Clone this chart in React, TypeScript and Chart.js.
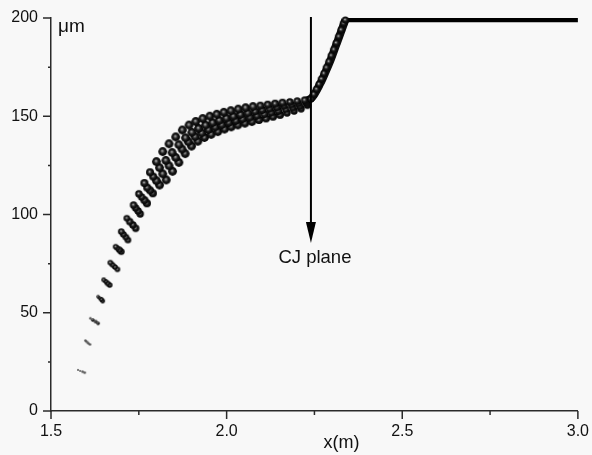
import { useEffect, useRef } from "react";
import { Chart, registerables } from "chart.js";

Chart.register(...registerables);

// ---- axis ranges & ticks ----
const X_MIN = 1.5;
const X_MAX = 3.0;
const Y_MIN = 0;
const Y_MAX = 200;
const xMajorTicks = [1.5, 2.0, 2.5, 3.0];
const xMinorTicks = [1.75, 2.25, 2.75];
const yMajorTicks = [0, 50, 100, 150, 200];
const yMinorTicks = [25, 75, 125, 175];
const X_TITLE = "x(m)";
const Y_UNIT = "\u03bcm";

// ---- CJ plane annotation (data units) ----
const CJ_X = 2.24;
const CJ_ARROW_TOP = 200;
const CJ_ARROW_TIP = 85.5;
const CJ_LABEL = "CJ plane";

// ---- particle strands (upper-left -> lower-right) ----
const strandAX = [1.577, 1.598, 1.612, 1.634, 1.650, 1.669, 1.684, 1.700, 1.716, 1.735, 1.750, 1.766, 1.782, 1.800, 1.818, 1.836, 1.855, 1.874, 1.893, 1.912, 1.932, 1.952, 1.972, 1.992, 2.012, 2.033, 2.054, 2.075, 2.096, 2.117, 2.138, 2.159, 2.180, 2.201, 2.222];
const strandAY = [20.9, 35.8, 47.2, 58.2, 66.7, 75.5, 83.6, 91.3, 98.1, 104.8, 110.5, 116, 121.5, 126.9, 132, 136, 139.5, 143, 145.5, 147.3, 148.8, 150, 151, 152, 152.8, 153.6, 154.3, 154.9, 155.4, 155.9, 156.4, 156.9, 157.3, 157.7, 158.2];

const strandBX = [1.583, 1.602, 1.619, 1.638, 1.656, 1.675, 1.689, 1.706, 1.724, 1.741, 1.758, 1.774, 1.791, 1.809, 1.827, 1.845, 1.864, 1.883, 1.901, 1.920, 1.940, 1.960, 1.979, 1.999, 2.019, 2.039, 2.060, 2.081, 2.101, 2.122, 2.143, 2.163, 2.184, 2.204, 2.225];
const strandBY = [20.4, 35.2, 46.3, 57.5, 65.9, 74.4, 82.8, 89.9, 96.4, 103.3, 108.9, 113.7, 119.3, 123.8, 127.5, 131.5, 135.5, 139, 141.8, 143.8, 145.5, 146.7, 147.9, 149, 150, 150.9, 151.7, 152.5, 153.2, 153.9, 154.6, 155.3, 155.9, 156.5, 157.4];

const strandCX = [1.590, 1.606, 1.627, 1.643, 1.661, 1.682, 1.695, 1.713, 1.733, 1.748, 1.766, 1.782, 1.800, 1.818, 1.836, 1.855, 1.873, 1.891, 1.910, 1.929, 1.948, 1.967, 1.986, 2.006, 2.026, 2.045, 2.066, 2.086, 2.107, 2.127, 2.147, 2.168, 2.188, 2.208, 2.228];
const strandCY = [20, 34.5, 45.5, 56.8, 65, 73.3, 82, 88.5, 94.7, 101.8, 107.3, 112.3, 117.2, 120.7, 124.8, 129, 133.3, 137, 139.6, 141.5, 143.2, 144.5, 145.7, 146.8, 147.8, 148.7, 149.5, 150.3, 151.1, 151.9, 152.7, 153.5, 154.3, 155.1, 156.5];

const strandDX = [1.596, 1.611, 1.634, 1.647, 1.667, 1.689, 1.700, 1.719, 1.741, 1.754, 1.773, 1.790, 1.809, 1.828, 1.846, 1.864, 1.882, 1.900, 1.918, 1.937, 1.956, 1.975, 1.994, 2.013, 2.032, 2.052, 2.072, 2.092, 2.112, 2.132, 2.152, 2.172, 2.192, 2.212, 2.230];
const strandDY = [19.5, 33.9, 44.6, 56, 64.1, 72.1, 81.1, 87, 93, 100.3, 105.7, 110.8, 115, 117.6, 122, 126.5, 131, 134.8, 137.3, 139.2, 140.8, 142.2, 143.5, 144.6, 145.6, 146.5, 147.3, 148.1, 148.9, 149.8, 150.7, 151.7, 152.7, 153.8, 155.6];

// ---- steep rise after the CJ plane and the plateau ----
const riseX = [2.222, 2.243, 2.267, 2.282, 2.296, 2.310, 2.324, 2.338];
const riseY = [157.5, 159.5, 166.8, 172.7, 178.6, 185.4, 192.2, 199];
const riseBallX = [2.240, 2.248, 2.256, 2.263, 2.270, 2.277, 2.284, 2.291, 2.298, 2.305, 2.312, 2.319, 2.326, 2.333, 2.338];
const riseBallY = [158.8, 161.2, 163.8, 166.3, 169, 171.8, 174.8, 177.8, 180.9, 184, 187.3, 190.6, 194, 197.3, 199];
const plateauX = [2.338, 3.0];
const plateauY = [199, 199];

const FONT = "'Liberation Sans', Arial, Helvetica, sans-serif";
const BG = "#f8f8f8";
const AXIS = "#2a2a2a";

const toPts = (xs: number[], ys: number[]) => xs.map((x, i) => ({ x, y: ys[i] }));

const ballCache = new Map<number, HTMLCanvasElement>();
function ballImage(rIn: number): HTMLCanvasElement {
  const r = Math.round(rIn * 10) / 10;
  const hit = ballCache.get(r);
  if (hit) return hit;
  const size = Math.ceil(2 * r + 2);
  const c = document.createElement("canvas");
  c.width = size;
  c.height = size;
  const g = c.getContext("2d")!;
  const m = size / 2;
  g.beginPath();
  g.arc(m, m, r, 0, Math.PI * 2);
  if (r < 1.6) {
    g.fillStyle = "rgba(30,30,30,0.75)";
  } else {
    const grad = g.createRadialGradient(m - r * 0.12, m - r * 0.18, 0, m, m, r);
    grad.addColorStop(0, "#d0d0d0");
    grad.addColorStop(0.22, "#6c6c6c");
    grad.addColorStop(0.5, "#1c1c1c");
    grad.addColorStop(1, "#000000");
    g.fillStyle = grad;
  }
  g.fill();
  ballCache.set(r, c);
  return c;
}

function ballRadius(x: number): number {
  if (x < 1.59) return 1.0;
  if (x < 1.615) return 1.3;
  if (x < 1.64) return 1.8;
  if (x < 1.66) return 2.4;
  if (x < 1.69) return 2.8;
  if (x < 1.72) return 3.3;
  if (x < 1.76) return 3.7;
  if (x < 1.8) return 4.0;
  if (x < 2.08) return 4.4;
  if (x < 2.16) return 4.0;
  return 3.7;
}

const ballDataset = (label: string, xs: number[], ys: number[], fixedR?: number) => ({
  type: "scatter" as const,
  label,
  data: toPts(xs, ys),
  showLine: false,
  pointRadius: (ctx: any) => fixedR ?? ballRadius(ctx.raw?.x ?? 2),
  pointStyle: (ctx: any) => ballImage(fixedR ?? ballRadius(ctx.raw?.x ?? 2)),
  clip: false as const,
});

const tickPlugin = {
  id: "customTicks",
  afterDraw(chart: any) {
    const { ctx, chartArea } = chart;
    const xs = chart.scales.x;
    const ys = chart.scales.y;
    ctx.save();
    ctx.strokeStyle = AXIS;
    ctx.lineWidth = 1.5;
    ctx.beginPath();
    xMajorTicks.forEach((v) => {
      const px = xs.getPixelForValue(v);
      ctx.moveTo(px, chartArea.bottom);
      ctx.lineTo(px, chartArea.bottom + 8);
    });
    xMinorTicks.forEach((v) => {
      const px = xs.getPixelForValue(v);
      ctx.moveTo(px, chartArea.bottom);
      ctx.lineTo(px, chartArea.bottom + 4);
    });
    yMajorTicks.forEach((v) => {
      const py = ys.getPixelForValue(v);
      ctx.moveTo(chartArea.left, py);
      ctx.lineTo(chartArea.left - 8, py);
    });
    yMinorTicks.forEach((v) => {
      const py = ys.getPixelForValue(v);
      ctx.moveTo(chartArea.left, py);
      ctx.lineTo(chartArea.left - 3, py);
    });
    ctx.stroke();

    // unit label on y axis
    ctx.fillStyle = "#111";
    ctx.font = `19px ${FONT}`;
    ctx.textAlign = "left";
    ctx.textBaseline = "alphabetic";
    ctx.fillText(Y_UNIT, chartArea.left + 7, chartArea.top + 14);

    // x axis title
    ctx.font = `18px ${FONT}`;
    ctx.textAlign = "center";
    ctx.fillText(X_TITLE, (chartArea.left + chartArea.right) / 2 + 27, chartArea.bottom + 37);
    ctx.restore();
  },
};

const arrowPlugin = {
  id: "cjArrow",
  afterDatasetsDraw(chart: any) {
    const { ctx } = chart;
    const xs = chart.scales.x;
    const ys = chart.scales.y;
    const px = xs.getPixelForValue(CJ_X);
    const top = ys.getPixelForValue(CJ_ARROW_TOP) - 1;
    const tip = ys.getPixelForValue(CJ_ARROW_TIP);
    ctx.save();
    ctx.strokeStyle = "#000";
    ctx.fillStyle = "#000";
    ctx.lineWidth = 2;
    ctx.beginPath();
    ctx.moveTo(px, top);
    ctx.lineTo(px, tip - 15);
    ctx.stroke();
    ctx.beginPath();
    ctx.moveTo(px, tip);
    ctx.lineTo(px - 5, tip - 21);
    ctx.lineTo(px + 5, tip - 21);
    ctx.closePath();
    ctx.fill();
    ctx.font = `18.5px ${FONT}`;
    ctx.textAlign = "center";
    ctx.textBaseline = "alphabetic";
    ctx.fillStyle = "#111";
    ctx.fillText(CJ_LABEL, px + 4, tip + 20);
    ctx.restore();
  },
};

const bgPlugin = {
  id: "bg",
  beforeDraw(chart: any) {
    const { ctx, width, height } = chart;
    ctx.save();
    ctx.fillStyle = BG;
    ctx.fillRect(0, 0, width, height);
    ctx.restore();
  },
};

export default function App() {
  const ref = useRef<HTMLCanvasElement | null>(null);

  useEffect(() => {
    if (!ref.current) return;
    const chart = new Chart(ref.current, {
      type: "scatter",
      data: {
        datasets: [
          ballDataset("rise balls", riseBallX, riseBallY, 3.6),
          ballDataset("A", strandAX, strandAY),
          ballDataset("B", strandBX, strandBY),
          ballDataset("C", strandCX, strandCY),
          ballDataset("D", strandDX, strandDY),
          {
            type: "line" as const,
            label: "rise",
            data: toPts(riseX, riseY),
            borderColor: "#101010",
            borderWidth: 8,
            pointRadius: 0,
            tension: 0.3,
          },
          {
            type: "line" as const,
            label: "plateau",
            data: toPts(plateauX, plateauY),
            borderColor: "#000",
            borderWidth: 4.4,
            pointRadius: 0,
          },
        ] as any,
      },
      options: {
        animation: false,
        responsive: true,
        maintainAspectRatio: false,
        events: [],
        layout: { padding: { left: 0, right: 12, top: 18, bottom: 0 } },
        plugins: {
          legend: { display: false },
          tooltip: { enabled: false },
          title: { display: false },
        },
        scales: {
          x: {
            type: "linear",
            min: X_MIN,
            max: X_MAX,
            grid: { display: true, drawOnChartArea: false, drawTicks: true, tickLength: 8, tickColor: "rgba(0,0,0,0)" },
            border: { display: true, color: AXIS, width: 1.5 },
            ticks: {
              stepSize: 0.25,
              autoSkip: false,
              maxRotation: 0,
              padding: 3,
              color: "#111",
              font: { family: FONT, size: 16 },
              callback: (v: any) => {
                const n = Number(v);
                return xMajorTicks.some((t) => Math.abs(t - n) < 1e-6) ? n.toFixed(1) : "";
              },
            },
            afterFit: (s: any) => {
              s.height = 44;
            },
          },
          y: {
            type: "linear",
            min: Y_MIN,
            max: Y_MAX,
            grid: { display: true, drawOnChartArea: false, drawTicks: true, tickLength: 8, tickColor: "rgba(0,0,0,0)" },
            border: { display: true, color: AXIS, width: 1.5 },
            ticks: {
              stepSize: 25,
              autoSkip: false,
              padding: 5,
              color: "#111",
              font: { family: FONT, size: 16 },
              callback: (v: any) => {
                const n = Number(v);
                return yMajorTicks.includes(n) ? String(n) : "";
              },
            },
            afterFit: (s: any) => {
              s.width = 51;
            },
          },
        },
      },
      plugins: [bgPlugin, tickPlugin, arrowPlugin],
    });
    return () => chart.destroy();
  }, []);

  return (
    <div style={{ position: "fixed", left: 0, top: 0, width: 592, height: 455, background: BG }}>
      <canvas ref={ref} />
    </div>
  );
}
